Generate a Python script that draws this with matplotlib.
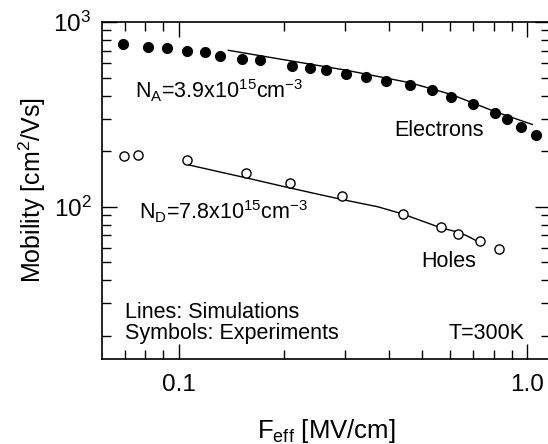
import matplotlib
matplotlib.use("Agg")
import matplotlib.pyplot as plt
from matplotlib.ticker import FixedLocator, FixedFormatter, LogLocator, NullFormatter

plt.rcParams["font.family"] = ["Liberation Sans", "DejaVu Sans"]
plt.rcParams["mathtext.fontset"] = "custom"
plt.rcParams["mathtext.rm"] = "Liberation Sans"
plt.rcParams["mathtext.it"] = "Liberation Sans:italic"
plt.rcParams["mathtext.bf"] = "Liberation Sans:bold"

# Electron mobility: measured points and simulated curve
elec_field = [0.0695, 0.0817, 0.0929, 0.1057, 0.1193, 0.1318, 0.1523, 0.1716,
              0.2109, 0.2381, 0.2648, 0.3013, 0.3454, 0.3929, 0.4608, 0.5309,
              0.6035, 0.6984, 0.8086, 0.8756, 0.9609, 1.059]
elec_mob = [763, 735, 720, 697, 685, 657, 633, 625,
            576, 561, 549, 523, 504, 479, 456, 427,
            391, 358, 320, 297, 271, 245]
elec_sim_field = [0.1388, 0.2109, 0.3013, 0.4608, 0.6035, 0.8086, 1.032]
elec_sim_mob = [703, 615, 549, 469, 406, 327, 279]

# Hole mobility: measured points and simulated curve
hole_field = [0.0699, 0.0764, 0.1054, 0.1557, 0.2090, 0.2934, 0.4399,
              0.5637, 0.631, 0.7292, 0.827]
hole_mob = [187.5, 190.5, 179.4, 152.8, 133.8, 114.0, 91.3,
            77.7, 71.4, 65.4, 59.2]
hole_sim_field = [0.1073, 0.1557, 0.2090, 0.2934, 0.3726, 0.4399, 0.5637,
                  0.631, 0.670, 0.724]
hole_sim_mob = [168.2, 143.6, 126.3, 109.6, 100.0, 91.3, 77.0,
                73.0, 69.7, 64.6]

x_ticks = [0.1, 1.0]
x_tick_labels = ["0.1", "1.0"]
y_ticks = [100, 1000]
y_tick_labels = [r"$10^2$", r"$10^3$"]

fig = plt.figure(figsize=(5.48, 4.44), dpi=100)
ax = fig.add_axes([0.187, 0.1914, 0.8166, 0.759])

ax.plot(elec_sim_field, elec_sim_mob, color="black", lw=1.0)
ax.plot(hole_sim_field, hole_sim_mob, color="black", lw=1.0)
ax.plot(elec_field, elec_mob, "o", color="black", ms=7.0, mec="black")
ax.plot(hole_field, hole_mob, "o", mfc="white", mec="black", ms=6.6, mew=1.0)

ax.set_xscale("log")
ax.set_yscale("log")
ax.set_xlim(0.0605, 1.16)
ax.set_ylim(15, 1000)

ax.xaxis.set_major_locator(FixedLocator(x_ticks))
ax.xaxis.set_major_formatter(FixedFormatter(x_tick_labels))
ax.xaxis.set_minor_locator(LogLocator(base=10, subs=range(2, 10)))
ax.xaxis.set_minor_formatter(NullFormatter())
ax.yaxis.set_major_locator(FixedLocator(y_ticks))
ax.yaxis.set_major_formatter(FixedFormatter(y_tick_labels))
ax.yaxis.set_minor_locator(LogLocator(base=10, subs=range(2, 10)))
ax.yaxis.set_minor_formatter(NullFormatter())

ax.tick_params(which="both", direction="in", top=True, right=True,
               width=1.0, colors="black")
ax.tick_params(which="major", length=10.5, labelsize=17.5)
ax.tick_params(axis="x", which="major", pad=11)
ax.tick_params(axis="y", which="major", pad=8)
ax.tick_params(which="minor", length=6.5)
for s in ax.spines.values():
    s.set_linewidth(1.2)

ax.set_xlabel(r"F$_\mathrm{eff}$ [MV/cm]", fontsize=18.5)
ax.set_ylabel(r"Mobility [cm$^2$/Vs]", fontsize=18)
ax.xaxis.set_label_coords(0.5, -0.172)
ax.yaxis.set_label_coords(-0.122, 0.5)

fs = 15.5
ax.text(0.0726, 0.7736, r"N$_\mathrm{A}$=3.9x10$^{15}$cm$^{-3}$",
        transform=ax.transAxes, fontsize=fs, va="baseline")
ax.text(0.652, 0.6617, "Electrons", transform=ax.transAxes, fontsize=fs,
        va="baseline")
ax.text(0.0822, 0.4145, r"N$_\mathrm{D}$=7.8x10$^{15}$cm$^{-3}$",
        transform=ax.transAxes, fontsize=fs, va="baseline")
ax.text(0.7133, 0.2739, "Holes", transform=ax.transAxes, fontsize=fs,
        va="baseline")
ax.text(0.0503, 0.1226, "Lines: Simulations", transform=ax.transAxes,
        fontsize=fs, va="baseline")
ax.text(0.0503, 0.0593, "Symbols: Experiments", transform=ax.transAxes,
        fontsize=fs, va="baseline")
ax.text(0.9441, 0.0593, "T=300K", transform=ax.transAxes, fontsize=fs,
        va="baseline", ha="right")

fig.savefig("out.png", dpi=100)
